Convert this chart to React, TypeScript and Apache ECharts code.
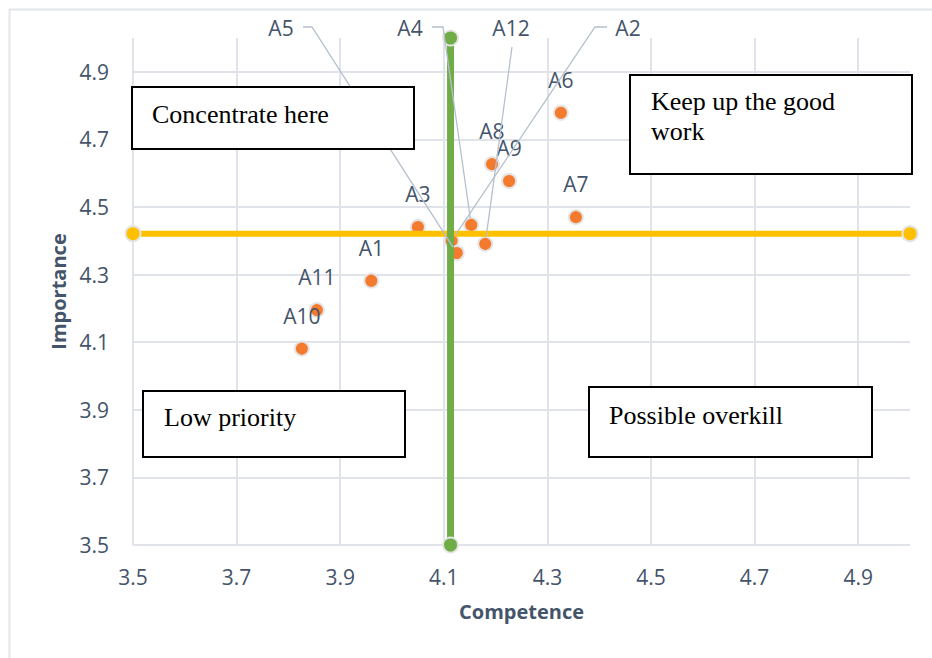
import React, { useEffect, useRef } from "react";
import * as echarts from "echarts";

// Attribute codes with their mean competence (x) and importance (y) scores
const attributes = ["A1", "A2", "A3", "A4", "A5", "A6", "A7", "A8", "A9", "A10", "A11", "A12"];
const competence = [3.96, 4.115, 4.05, 4.153, 4.125, 4.326, 4.355, 4.193, 4.226, 3.826, 3.855, 4.18];
const importance = [4.282, 4.4, 4.441, 4.447, 4.364, 4.779, 4.47, 4.627, 4.577, 4.081, 4.195, 4.391];

// Overall means that split the grid into quadrants
const meanCompetence = 4.113;
const meanImportance = 4.421;

// Axis range and tick step
const axisMin = 3.5;
const axisMax = 5.0;
const tickStep = 0.2;

// Quadrant captions
const quadrantCaptions = ["Concentrate here", "Keep up the good\nwork", "Low priority", "Possible overkill"];

// Attributes whose labels sit in the top margin with a leader line
const calledOut = ["A5", "A4", "A12", "A2"];

const TICK_COLOR = "#44546A";
const GRID_COLOR = "#e0e4ea";
const SANS = "'Open Sans', 'Noto Sans', sans-serif";
const SERIF = "'Liberation Serif', 'DejaVu Serif', serif";

// Label placement for the called-out attributes: label centre and the
// pixel path the leader line follows before heading to the marker
const calloutLayout: Record<string, { label: [number, number]; path: [number, number][] }> = {
  A5: { label: [281, 28], path: [[303, 27], [312, 27]] },
  A4: { label: [410, 28], path: [[432, 27], [443, 27]] },
  A12: { label: [511, 28], path: [[512, 47]] },
  A2: { label: [628, 28], path: [[607, 27], [595, 27]] },
};

// Caption box placement (pixels)
const captionBoxes = [
  { x: 132, y: 87, w: 282, h: 62, tx: 152, ty: 99 },
  { x: 630, y: 75, w: 282, h: 99, tx: 651, ty: 86 },
  { x: 143, y: 391, w: 262, h: 66, tx: 164, ty: 402 },
  { x: 589, y: 387, w: 283, h: 70, tx: 609, ty: 400 },
];

export default function App() {
  const ref = useRef<HTMLDivElement>(null);

  useEffect(() => {
    if (!ref.current) return;
    const chart = echarts.init(ref.current, undefined, { renderer: "svg" });

    const points = attributes.map((name, i) => ({
      name,
      value: [competence[i], importance[i]],
      label: { show: !calledOut.includes(name) },
    }));

    const calloutData = calledOut.map((name) => {
      const i = attributes.indexOf(name);
      return { name, value: [competence[i], importance[i]] };
    });

    const markerRadius = 7;

    chart.setOption({
      animation: false,
      backgroundColor: "#ffffff",
      grid: { left: 133, right: 22, top: 38, bottom: 113, containLabel: false },
      xAxis: {
        type: "value",
        min: axisMin,
        max: axisMax,
        interval: tickStep,
        name: "Competence",
        nameLocation: "middle",
        nameGap: 56,
        nameTextStyle: { fontFamily: SANS, fontWeight: "bold", fontSize: 20, color: TICK_COLOR },
        axisLine: { show: false },
        axisTick: { show: false },
        axisLabel: {
          fontFamily: SANS,
          fontSize: 21,
          color: TICK_COLOR,
          margin: 21,
          showMaxLabel: false,
          formatter: (v: number) => v.toFixed(1),
        },
        splitLine: { show: true, showMaxLine: false, lineStyle: { color: GRID_COLOR, width: 2 } },
      },
      yAxis: {
        type: "value",
        min: axisMin,
        max: axisMax,
        interval: tickStep,
        name: "Importance",
        nameLocation: "middle",
        nameGap: 62,
        nameTextStyle: { fontFamily: SANS, fontWeight: "bold", fontSize: 20, color: TICK_COLOR },
        axisLine: { show: false },
        axisTick: { show: false },
        axisLabel: {
          fontFamily: SANS,
          fontSize: 21,
          color: TICK_COLOR,
          margin: 24,
          showMaxLabel: false,
          formatter: (v: number) => v.toFixed(1),
        },
        splitLine: { show: true, showMaxLine: false, lineStyle: { color: GRID_COLOR, width: 2 } },
      },
      series: [
        {
          type: "scatter",
          z: 2,
          symbol: "circle",
          symbolSize: 14,
          itemStyle: { color: "#F47A2E", borderColor: "#e4e4e4", borderWidth: 2, opacity: 1 },
          label: {
            show: true,
            position: "inside",
            offset: [0, -33],
            formatter: "{b}",
            fontFamily: SANS,
            fontSize: 21,
            color: TICK_COLOR,
          },
          data: points,
        },
        {
          type: "line",
          z: 3,
          symbol: "circle",
          symbolSize: 15,
          lineStyle: { color: "#FFC000", width: 6 },
          itemStyle: { color: "#FFC000", borderColor: "#e4e4e4", borderWidth: 2 },
          data: [
            [axisMin, meanImportance],
            [axisMax, meanImportance],
          ],
        },
        {
          type: "line",
          z: 4,
          symbol: "circle",
          symbolSize: 15,
          lineStyle: { color: "#70AD47", width: 7 },
          itemStyle: { color: "#70AD47", borderColor: "#e4e4e4", borderWidth: 2 },
          data: [
            [meanCompetence, axisMin],
            [meanCompetence, axisMax],
          ],
        },
        {
          type: "custom",
          z: 5,
          clip: false,
          data: calloutData,
          renderItem: (params: any, api: any) => {
            const name = calloutData[params.dataIndex].name;
            const layout = calloutLayout[name];
            const p = api.coord([api.value(0), api.value(1)]);
            const last = layout.path[layout.path.length - 1];
            const dx = p[0] - last[0];
            const dy = p[1] - last[1];
            const len = Math.sqrt(dx * dx + dy * dy) || 1;
            const end = [p[0] - (dx / len) * markerRadius, p[1] - (dy / len) * markerRadius];
            return {
              type: "group",
              children: [
                {
                  type: "polyline",
                  shape: { points: [...layout.path, end] },
                  style: { stroke: "#b5bfcd", lineWidth: 1.3, fill: null },
                },
                {
                  type: "text",
                  x: layout.label[0],
                  y: layout.label[1],
                  style: {
                    text: name,
                    fontFamily: SANS,
                    fontSize: 21,
                    fill: TICK_COLOR,
                    align: "center",
                    verticalAlign: "middle",
                  },
                },
              ],
            };
          },
        },
      ],
      graphic: [
        {
          type: "rect",
          z: 0,
          silent: true,
          shape: { x: 9.5, y: 9.5, width: 960, height: 700 },
          style: { fill: null, stroke: "#e2e5ea", lineWidth: 2 },
        },
        ...captionBoxes.flatMap((b, i) => [
          {
            type: "rect",
            z: 100,
            silent: true,
            shape: { x: b.x, y: b.y, width: b.w, height: b.h },
            style: { fill: "#ffffff", stroke: "#000000", lineWidth: 2 },
          },
          {
            type: "text",
            z: 101,
            silent: true,
            x: b.tx,
            y: b.ty,
            style: {
              text: quadrantCaptions[i],
              fontFamily: SERIF,
              fontSize: 26,
              lineHeight: 30,
              fill: "#000000",
              align: "left",
              verticalAlign: "top",
            },
          },
        ]),
      ],
    });

    return () => chart.dispose();
  }, []);

  return (
    <div
      ref={ref}
      style={{ position: "absolute", left: 0, top: 0, width: 932, height: 658 }}
    />
  );
}
